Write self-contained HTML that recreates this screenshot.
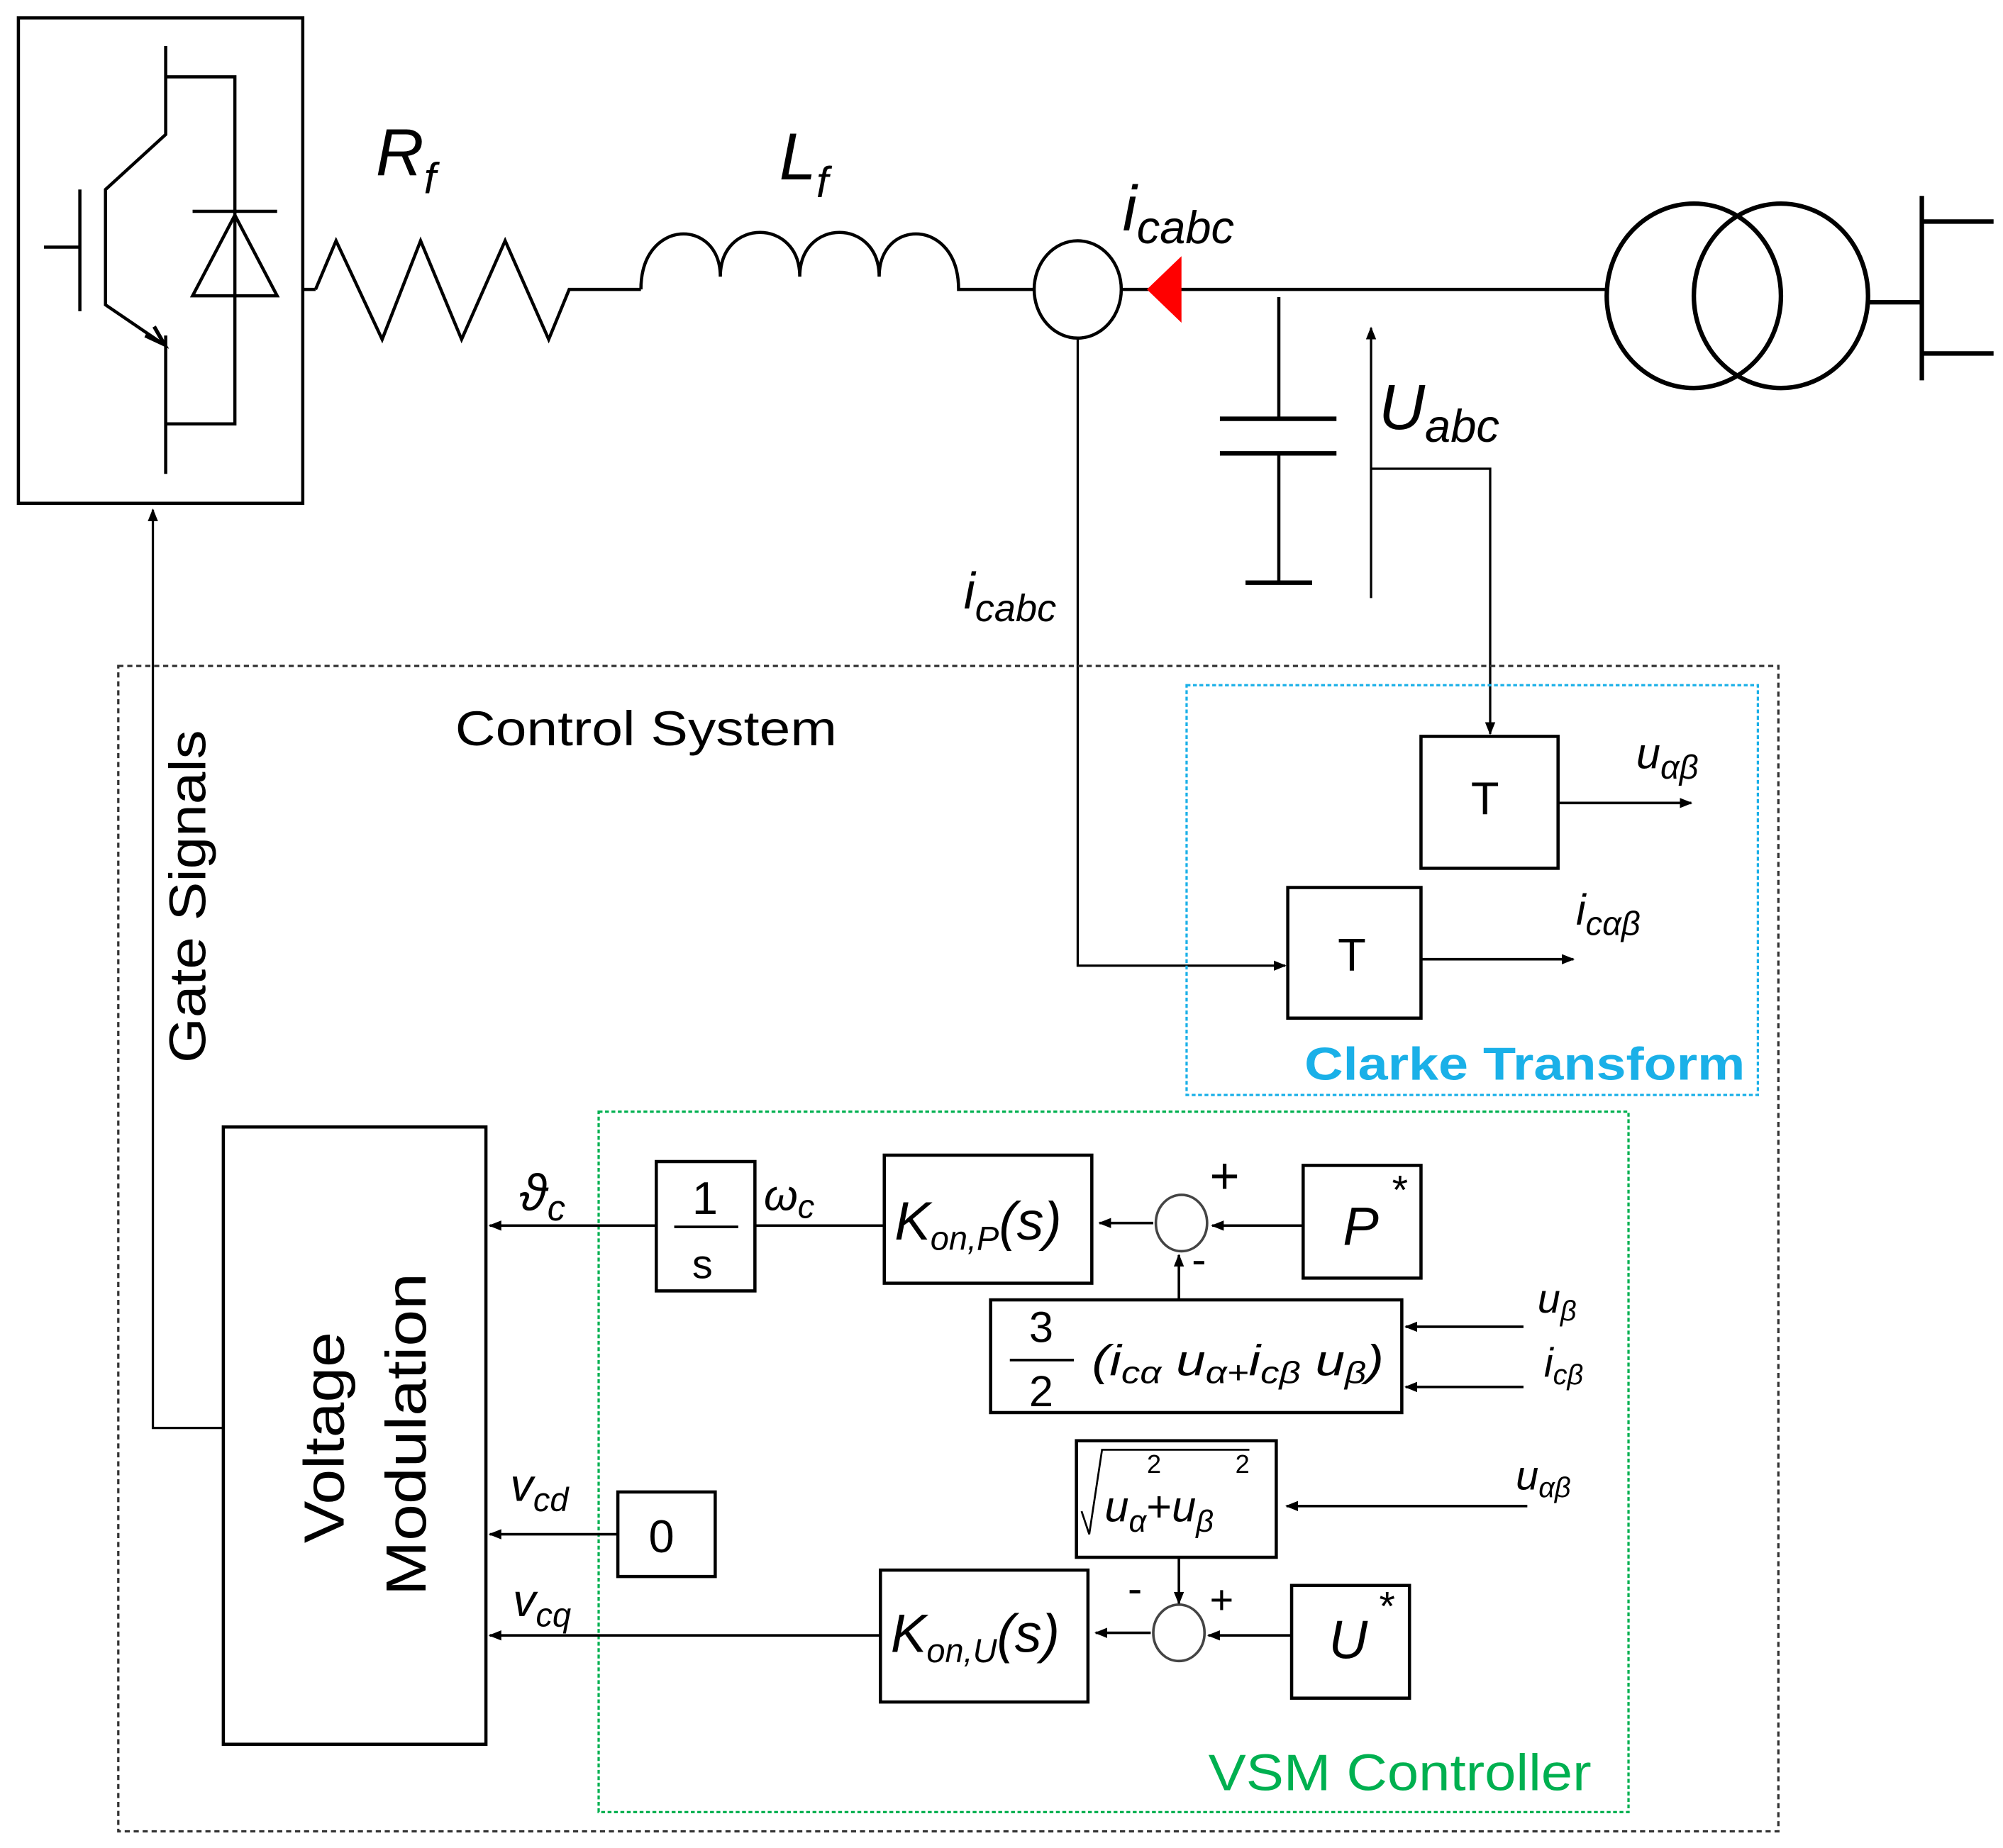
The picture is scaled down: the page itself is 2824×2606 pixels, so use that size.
<!DOCTYPE html>
<html><head><meta charset="utf-8"><style>html,body{margin:0;padding:0;background:#fff}svg{display:block}</style></head><body>
<svg xmlns="http://www.w3.org/2000/svg" width="2824" height="2606" viewBox="0 0 1563 1443" font-family="Liberation Sans, DejaVu Sans, sans-serif">
<defs>
<marker id="a" markerWidth="10" markerHeight="10" refX="9" refY="5" orient="auto" markerUnits="userSpaceOnUse"><path d="M0,1 L10,5 L0,9 Z" fill="#000"/></marker>
</defs>
<g fill="none" stroke="#000" stroke-width="2.5">
<rect x="14" y="14" width="222" height="379"/>
<polyline points="129,36 129,105 82,148 82,238 126,268"/>
<polyline points="129,60 183,60 183,331 129,331"/>
<line x1="129" y1="262" x2="129" y2="370"/>
<path d="M113,262 L128,269 L120,255" stroke-width="3"/>
<line x1="62" y1="148" x2="62" y2="243"/>
<line x1="34" y1="193" x2="62" y2="193"/>
<polygon points="150,231 216,231 183,168"/>
<line x1="150" y1="165" x2="216" y2="165"/>
<line x1="236" y1="226" x2="246" y2="226"/>
<polyline points="246,226 262,188 298,265 328,188 360,265 394,188 428,265 444,226 500,226"/>
<path d="M500,226 C500,170 562,170 562,216 C562,170 624,170 624,216 C624,170 686,170 686,216 C686,170 748,170 748,226 L808,226"/>
<ellipse cx="841" cy="226" rx="34" ry="38"/>
<line x1="876" y1="226" x2="1253" y2="226"/>
<line x1="998" y1="232" x2="998" y2="327"/>
<line x1="952" y1="327" x2="1043" y2="327" stroke-width="3.5"/>
<line x1="952" y1="354" x2="1043" y2="354" stroke-width="3.5"/>
<line x1="998" y1="354" x2="998" y2="455"/>
<line x1="972" y1="455" x2="1024" y2="455" stroke-width="3.5"/>
<ellipse cx="1322" cy="231" rx="68" ry="72" stroke-width="3.5"/>
<ellipse cx="1390" cy="231" rx="68" ry="72" stroke-width="3.5"/>
<line x1="1458" y1="236" x2="1500" y2="236" stroke-width="3.5"/>
<line x1="1500" y1="153" x2="1500" y2="297" stroke-width="3.5"/>
<line x1="1500" y1="173" x2="1556" y2="173" stroke-width="3.5"/>
<line x1="1500" y1="276" x2="1556" y2="276" stroke-width="3.5"/>
</g>
<polygon points="895,226 922,200 922,252" fill="#f00"/>
<g fill="none" stroke="#000" stroke-width="1.8">
<line x1="1070" y1="467" x2="1070" y2="256" marker-end="url(#a)"/>
<polyline points="1070,366 1163,366 1163,573" marker-end="url(#a)"/>
<polyline points="841,264 841,754 1003,754" marker-end="url(#a)"/>
<polyline points="174,1115 119,1115 119,398" marker-end="url(#a)"/>
<rect x="92" y="520" width="1296" height="910" stroke-dasharray="4,3" stroke="#333"/>
<rect x="926" y="535" width="446" height="320" stroke-dasharray="3,2" stroke="#1ab0e8"/>
<rect x="467" y="868" width="804" height="547" stroke-dasharray="3,2" stroke="#00b050"/>
</g>
<g fill="none" stroke="#000" stroke-width="2.5">
<rect x="1109" y="575" width="107" height="103"/>
<rect x="1005" y="693" width="104" height="102"/>
<rect x="174" y="880" width="205" height="482"/>
<rect x="512" y="907" width="77" height="101"/>
<rect x="690" y="902" width="162" height="100"/>
<rect x="1017" y="910" width="92" height="88"/>
<rect x="773" y="1015" width="321" height="88"/>
<rect x="840" y="1125" width="156" height="91"/>
<rect x="1008" y="1238" width="92" height="88"/>
<rect x="687" y="1226" width="162" height="103"/>
<rect x="482" y="1165" width="76" height="66"/>
</g>
<g fill="none" stroke="#000" stroke-width="2">
<ellipse cx="922" cy="955" rx="20" ry="22" stroke="#444"/>
<ellipse cx="920" cy="1275" rx="20" ry="22" stroke="#444"/>
<line x1="1216" y1="627" x2="1320" y2="627" marker-end="url(#a)"/>
<line x1="1109" y1="749" x2="1228" y2="749" marker-end="url(#a)"/>
<line x1="689" y1="957" x2="589" y2="957"/>
<line x1="512" y1="957" x2="382" y2="957" marker-end="url(#a)"/>
<line x1="900" y1="955" x2="858" y2="955" marker-end="url(#a)"/>
<line x1="1017" y1="957" x2="946" y2="957" marker-end="url(#a)"/>
<line x1="920" y1="1015" x2="920" y2="980" marker-end="url(#a)"/>
<line x1="1189" y1="1036" x2="1097" y2="1036" marker-end="url(#a)"/>
<line x1="1189" y1="1083" x2="1097" y2="1083" marker-end="url(#a)"/>
<line x1="1192" y1="1176" x2="1004" y2="1176" marker-end="url(#a)"/>
<line x1="920" y1="1216" x2="920" y2="1252" marker-end="url(#a)"/>
<line x1="1008" y1="1277" x2="943" y2="1277" marker-end="url(#a)"/>
<line x1="898" y1="1275" x2="855" y2="1275" marker-end="url(#a)"/>
<line x1="687" y1="1277" x2="382" y2="1277" marker-end="url(#a)"/>
<line x1="482" y1="1198" x2="382" y2="1198" marker-end="url(#a)"/>
<line x1="526" y1="958" x2="576" y2="958"/>
<line x1="788" y1="1062" x2="838" y2="1062"/>
<polyline points="844,1180 850,1198 860,1132 975,1132" stroke-width="1.5"/>
</g>
<g font-style="italic" fill="#000">
<text x="293" y="137" font-size="52">R<tspan font-size="34" dy="14">f</tspan></text>
<text x="608" y="140" font-size="52">L<tspan font-size="34" dy="14">f</tspan></text>
<text x="876" y="180" font-size="50">i<tspan font-size="36" dy="10">cabc</tspan></text>
<text x="1076" y="335" font-size="50">U<tspan font-size="36" dy="10">abc</tspan></text>
<text x="752" y="475" font-size="40">i<tspan font-size="30" dy="10">cabc</tspan></text>
<text x="1277" y="600" font-size="34">u<tspan font-size="26" dy="8">αβ</tspan></text>
<text x="1230" y="722" font-size="34">i<tspan font-size="26" dy="8">cαβ</tspan></text>
<text x="405" y="945" font-size="40">ϑ<tspan font-size="28" dy="8">c</tspan></text>
<text x="596" y="945" font-size="34">ω<tspan font-size="26" dy="6">c</tspan></text>
<text x="698" y="968" font-size="42">K<tspan font-size="26" dy="8">on,P</tspan><tspan dy="-8">(s)</tspan></text>
<text x="695" y="1290" font-size="42">K<tspan font-size="26" dy="8">on,U</tspan><tspan dy="-8">(s)</tspan></text>
<text x="1048" y="972" font-size="42">P</text>
<text x="1085" y="940" font-size="32">*</text>
<text x="1037" y="1295" font-size="42">U</text>
<text x="1075" y="1265" font-size="32">*</text>
<text x="852" y="1074" font-size="34" textLength="228" lengthAdjust="spacingAndGlyphs">(i<tspan font-size="24" dy="6">cα</tspan><tspan dy="-6"> u</tspan><tspan font-size="24" dy="6">α+</tspan><tspan dy="-6">i</tspan><tspan font-size="24" dy="6">cβ</tspan><tspan dy="-6"> u</tspan><tspan font-size="24" dy="6">β</tspan><tspan dy="-6">)</tspan></text>
<text x="862" y="1188" font-size="34">u<tspan font-size="24" dy="8">α</tspan><tspan dy="-8" font-style="normal">+</tspan>u<tspan font-size="24" dy="8">β</tspan></text>
<text x="1200" y="1025" font-size="32">u<tspan font-size="22" dy="6">β</tspan></text>
<text x="1205" y="1075" font-size="32">i<tspan font-size="22" dy="6">cβ</tspan></text>
<text x="1183" y="1163" font-size="32">u<tspan font-size="22" dy="6">αβ</tspan></text>
<text x="398" y="1172" font-size="36">v<tspan font-size="26" dy="8">cd</tspan></text>
<text x="400" y="1262" font-size="36">v<tspan font-size="26" dy="8">cq</tspan></text>
</g>
<g fill="#000">
<text x="540" y="948" font-size="36">1</text>
<text x="540" y="998" font-size="32">s</text>
<text x="803" y="1048" font-size="34">3</text>
<text x="803" y="1098" font-size="34">2</text>
<text x="895" y="1150" font-size="20">2</text>
<text x="964" y="1150" font-size="20">2</text>
<text x="506" y="1212" font-size="36">0</text>
<text x="1148" y="636" font-size="36">T</text>
<text x="1044" y="758" font-size="36">T</text>
<text x="944" y="932" font-size="40">+</text>
<text x="930" y="995" font-size="34">-</text>
<text x="944" y="1260" font-size="32">+</text>
<text x="880" y="1252" font-size="34">-</text>
<text x="355" y="582" font-size="38" textLength="298" lengthAdjust="spacingAndGlyphs">Control System</text>
<text x="1018" y="843" font-size="36" font-weight="bold" fill="#1ab0e8" textLength="344" lengthAdjust="spacingAndGlyphs">Clarke Transform</text>
<text x="943" y="1398" font-size="40" fill="#00b050" textLength="299" lengthAdjust="spacingAndGlyphs">VSM Controller</text>
<text transform="translate(160,830) rotate(-90)" font-size="40" textLength="260" lengthAdjust="spacingAndGlyphs">Gate Signals</text>
<text transform="translate(268,1205) rotate(-90)" font-size="44" textLength="165" lengthAdjust="spacingAndGlyphs">Voltage</text>
<text transform="translate(332,1246) rotate(-90)" font-size="44" textLength="252" lengthAdjust="spacingAndGlyphs">Modulation</text>
</g>
</svg>
</body></html>
